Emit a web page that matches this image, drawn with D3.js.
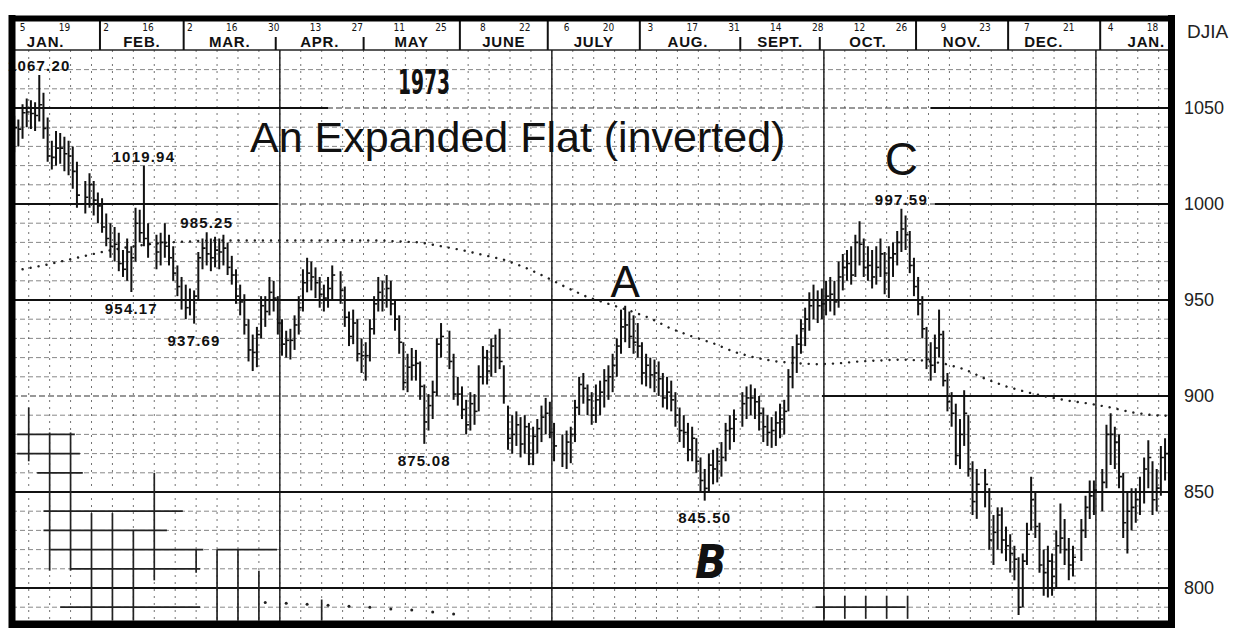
<!DOCTYPE html>
<html><head><meta charset="utf-8">
<script src="https://cdn.jsdelivr.net/npm/d3@7"></script>
<style>body{margin:0;background:#fff}svg{display:block}</style>
</head><body>
<svg id="c" width="1247" height="628"></svg>
<script>
// ---------- DATA ----------
const startDate = "1973-01-02", endDate = "1974-01-23";
const holidays = ["1973-01-25","1973-02-19","1973-04-20","1973-05-28","1973-07-04",
                  "1973-09-03","1973-11-22","1973-12-25","1974-01-01"];
// daily highs, one row per week
const weeklyHighs = [
 [1040,1046,1044,1052],[1055,1054,1053,1067.2,1058],[1045,1033,1038,1037,1035],[1033,1030,1022,1012],
 [1016,1012,1006,1003,995],[990,988,985,976,982],[978,998,997,1019.94,990],[984,985,990,984],
 [978,968,962,958,956],[955,975,982,985.25,982],[983,982,984,980,973],[966,958,953,940,932],
 [936,952,952,962,960],[952,940,934,935,942],[952,966,972,970,967],[962,958,962,968],
 [965,957,944,945,940],[930,928,940,952,962],[960,963,960,950,942],[928,922,925,924,918],
 [906,901,908,930,938],[934,922,910,905],[898,902,901,916,926],[924,930,932,935,916],
 [895,890,892,889,890],[886,884,888,895,899],[897,886,880,882],[884,898,910,912,906],
 [902,906,908,914,916],[922,930,945,947,944],[942,938,928,922,920],[919,918,912,910,908],
 [902,894,890,886,884],[878,868,862,870,872],[873,876,886,890,893],[902,905,906,904],
 [900,894,890,889,892],[896,898,914,926,932],[940,946,954,958,955],[956,960,962,960,970],
 [974,976,978,984,991],[982,978,976,978,982],[975,978,980,986,997.59],[994,986,972,962,952],
 [936,928,932,945,934],[912,902,896,888,903],[890,866,862,862],[852,838,842,842,832],
 [828,822,816,818,834],[858,850,834,820,822],[818,830,844,836,826],[822,836,848,856],
 [856,862,885,891],[884,880,860,850,852],[852,858,868,877,866],[862,874,878]
];
const weeklyLows = [
 [1022,1027,1030,1034],[1040,1039,1038,1043,1034],[1022,1018,1020,1021,1017],[1015,1008,998,995],
 [998,994,990,985,978],[972,970,965,962,960],[954.17,970,980,978,972],[966,968,972,968],
 [960,952,945,940,942],[937.69,950,966,968,965],[967,966,968,963,958],[948,942,932,918,913],
 [915,930,936,942,944],[932,921,920,919,924],[932,944,954,955,951],[946,944,946,950],
 [948,936,926,927,918],[912,908,918,932,944],[944,946,942,934,922],[903,902,908,908,898],
 [875.08,882,888,900,920],[914,898,895,888],[880,882,885,892,906],[906,910,912,914,896],
 [872,870,874,868,870],[864,864,870,876,880],[878,866,863,862],[865,876,890,896,890],
 [885,886,890,894,898],[902,910,922,928,925],[922,920,906,905,904],[902,900,894,893,892],
 [884,876,873,866,866],[860,850,845.5,850,854],[855,858,866,872,876],[884,888,890,888],
 [882,876,874,873,874],[878,880,892,904,912],[922,926,934,940,938],[940,942,944,942,946],
 [955,960,958,962,968],[962,960,956,958,962],[953,951,962,968,975],[976,964,952,942,930],
 [914,908,912,920,905],[892,884,864,862,874],[858,838,836,842],[820,812,820,818,814],
 [808,804,786,790,812],[830,826,808,796,795],[796,800,818,812,804],[806,814,826,836],
 [838,840,852,864],[862,852,826,818,830],[834,838,844,852,838],[840,848,856]
];
const weeklyCloses = [
 [1031.7,1039.8,1039,1047.5],[1047.9,1047.1,1046.1,1051.7,1039.4],[1025,1024.3,1029.1,1029.1,1026.2],[1025,1017,1004.6,1003.5],
 [1010,1002,999,988,982],[978,979,969,966,975],[972,990,985,982,979],[975,980,978,972],
 [964,957,950,946,950],[952,972,977,974,972],[976,975,977,967,963],[952,949,937,924,922.7],
 [932,947,944,954,951],[938,927,929,929,937],[946,959,964,962,959],[953,951,956,963],
 [955,941,931,938,922],[921,921,935,948,954],[950,956,948,940,928],[907,915,916,917,905],
 [886.5,895,902,927,931],[918,901,901,893],[885,896,892,910,920],[913,926,920,918,900],
 [878,880,885,875,884],[870,879,883,889,891],[881,874,870,876],[880,894,906,904,898],
 [890,898,902,908,910],[916,926,936,937,931],[928,926,912,916,911],[912,909,899,902,898],
 [890,882,881,872,878],[866,856,851.9,864,862],[866,868,882,883,888],[896,899,899,897],
 [891,884,881,882,886],[888,892,910,920,927],[935,940,947,950,947],[948,952,953,949,962],
 [967,969,963,980,979],[967,968,962,967,974],[964,972,974,980,987],[984,968,957,948,935],
 [919,916,925,932,908],[897,891,869,880,891],[862,845,854,854],[825,829,838,825,822],
 [818,815,790,814,828],[846,832,812,808,814],[806,822,826,820,812],[816,830,842,848],
 [851,855,880,880],[876,858,834,840,842],[846,850,862,868,846],[852,868,870]
];
// dotted moving average, one value per week (Fridays)
const maWeekly = [966,968,970.5,973,975.5,977.5,979,980,980.5,981,981,981,981,981,981,981,981,981,
 980.5,980,978,976,973.5,971,967,962,956.5,951.5,948,944.5,940.5,935,931,927.5,923,920,918,917,
 916.5,917,918,918.5,919,918.5,917,914,909,905,902,899.5,897.5,896,894,891.5,890,889.5];
const yTicks = [800,850,900,950,1000,1050];
const monthNames = ["JAN.","FEB.","MAR.","APR.","MAY","JUNE","JULY","AUG.","SEPT.","OCT.","NOV.","DEC.","JAN."];
const fridayLabels = ["1973-01-05","1973-01-19","1973-02-02","1973-02-16","1973-03-02","1973-03-16","1973-03-30",
 "1973-04-13","1973-04-27","1973-05-11","1973-05-25","1973-06-08","1973-06-22","1973-07-06","1973-07-20",
 "1973-08-03","1973-08-17","1973-08-31","1973-09-14","1973-09-28","1973-10-12","1973-10-26","1973-11-09",
 "1973-11-23","1973-12-07","1973-12-21","1974-01-04","1974-01-18"];
// price annotations
const noteDates  = ["1973-01-11","1973-02-15","1973-03-08","1973-02-12","1973-03-05","1973-05-21","1973-08-22","1973-10-26"];
const noteValues = [1067.20,1019.94,985.25,954.17,937.69,875.08,845.50,997.59];
const noteSide   = ["above","above","above","below","below","below","below","above"];
// wave labels
const waveNames = ["A","B","C"];
const waveDates = ["1973-07-26","1973-08-22","1973-10-26"];
const waveValues = [947,845.5,997.59];
// darker remnant grid segments (lower left): [value, fromDay, toDay] and [weekLine, fromValue, toValue]
const remnantH = [[880,2.7,16.5],[870,2.7,17.7],[860,7.5,18.4],[840,9,42.3],[830,9,38.5],
 [820,10.6,47.2],[820,50.5,64.8],[810,15.3,46.4],[790,13,46.4],[790,193.5,215]];
const remnantV = [[1,894,866],[2,881,809],[3,881,809],[4,839,783],[5,839,783],[6,830,783],
 [7,860,804],[9,820,808],[10,820,783],[11,820,783],[12,809,783],[15,794,783],
 [39,796,784],[40,796,784],[41,796,784],[42,796,784],[43,796,784]];
const remnantDotsDay = [62,67,72,77,82,87,92,97,102,107];
const remnantDotsVal = [792.5,792,791.5,791,790.5,790,789,788.5,787.5,786.5];

// ---------- HELPERS ----------
const T0 = Date.UTC(1973,0,1);
function parse(s){const [a,b,c]=s.split("-").map(Number);return new Date(Date.UTC(a,b-1,c));}
function dayIndex(d){const days=Math.round((d-T0)/864e5);return Math.floor(days/7)*5+(d.getUTCDay()-1);}
const hol = new Set(holidays);
const tradingDays = [];
for(let d=parse(startDate); d<=parse(endDate); d=new Date(d.getTime()+864e5)){
  const w=d.getUTCDay(); if(w===0||w===6) continue;
  if(hol.has(d.toISOString().slice(0,10))) continue;
  tradingDays.push(d);
}
const H=weeklyHighs.flat(), L=weeklyLows.flat(), C=weeklyCloses.flat();
const bars = tradingDays.map((d,i)=>({i:dayIndex(d),d,h:H[i],l:L[i],c:C[i]})).filter(b=>b.h!=null);

// ---------- SCALES ----------
const x = d3.scaleLinear().domain([0,274]).range([5.8,1152.5]);
const y = d3.scaleLinear().domain([800,1050]).range([588,108]);
const pL=12, pR=1171.5, pT=50, pB=621;

const svg = d3.select("#c");
svg.append("defs").append("clipPath").attr("id","pc").append("rect")
  .attr("x",pL).attr("y",pT).attr("width",pR-pL).attr("height",pB-pT);
const g = svg.append("g").attr("clip-path","url(#pc)");

// minor horizontal grid
g.append("g").selectAll("line").data(d3.range(790,1080,10).filter(v=>v%50!==0)).join("line")
  .attr("x1",pL).attr("x2",pR).attr("y1",d=>y(d)).attr("y2",d=>y(d))
  .attr("stroke","#444").attr("stroke-width",0.9).attr("stroke-dasharray","5,3").attr("opacity",0.7);
// weekly vertical grid
g.append("g").selectAll("line").data(d3.range(0,57)).join("line")
  .attr("x1",k=>x(5*k)+2).attr("x2",k=>x(5*k)+2).attr("y1",pT).attr("y2",pB)
  .attr("stroke","#444").attr("stroke-width",1).attr("stroke-dasharray","2,5").attr("opacity",0.75);
// quarter lines
g.append("g").selectAll("line").data([65,130,195,260]).join("line")
  .attr("x1",d=>x(d)+2).attr("x2",d=>x(d)+2).attr("y1",pT).attr("y2",pB)
  .attr("stroke","#222").attr("stroke-width",1.5);
// major horizontal lines (some solid only in parts)
const solidSpans = {1050:[[0,77],[221,282]],1000:[[0,65],[222,282]],900:[[195,282]]};
yTicks.forEach(v=>{
  const spans = solidSpans[v] || [[0,282]];
  if(solidSpans[v]) g.append("line").attr("x1",pL).attr("x2",pR).attr("y1",y(v)).attr("y2",y(v))
    .attr("stroke","#333").attr("stroke-width",1.2).attr("stroke-dasharray","6,3");
  spans.forEach(s=>g.append("line").attr("x1",Math.max(pL,x(s[0]))).attr("x2",Math.min(pR,x(s[1])))
    .attr("y1",y(v)).attr("y2",y(v)).attr("stroke","#111").attr("stroke-width",1.8));
});
// remnant grid
g.append("g").selectAll("line").data(remnantH).join("line")
  .attr("x1",d=>x(d[1])).attr("x2",d=>x(d[2])).attr("y1",d=>y(d[0])).attr("y2",d=>y(d[0]))
  .attr("stroke","#222").attr("stroke-width",1.7);
g.append("g").selectAll("line").data(remnantV).join("line")
  .attr("x1",d=>x(5*d[0])+2).attr("x2",d=>x(5*d[0])+2).attr("y1",d=>y(d[1])).attr("y2",d=>y(d[2]))
  .attr("stroke","#222").attr("stroke-width",1.7);
g.append("g").selectAll("circle").data(remnantDotsDay).join("circle")
  .attr("cx",d=>x(d)).attr("cy",(d,i)=>y(remnantDotsVal[i])).attr("r",1.5).attr("fill","#222");

// moving average (dotted)
g.append("path").datum(maWeekly)
  .attr("d",d3.line().x((v,k)=>x(4+5*k)).y(v=>y(v)))
  .attr("fill","none").attr("stroke","#222").attr("stroke-width",2.4)
  .attr("stroke-linecap","round").attr("stroke-dasharray","0.1,8");

// daily bars
const bg = g.append("g").attr("stroke","#111");
bg.selectAll("line.hl").data(bars).join("line").attr("class","hl")
  .attr("x1",b=>x(b.i)).attr("x2",b=>x(b.i)).attr("y1",b=>y(b.h)).attr("y2",b=>y(b.l))
  .attr("stroke-width",2);
bg.selectAll("line.cl").data(bars).join("line").attr("class","cl")
  .attr("x1",b=>x(b.i)).attr("x2",b=>x(b.i)+3).attr("y1",b=>y(b.c)).attr("y2",b=>y(b.c))
  .attr("stroke-width",1.6);

// price annotations
svg.append("g").selectAll("text").data(noteValues).join("text")
  .attr("x",(v,i)=>x(dayIndex(parse(noteDates[i]))))
  .attr("y",(v,i)=>noteSide[i]==="above"? y(v)-4 : y(v)+22)
  .attr("text-anchor","middle").attr("font-family","Liberation Sans, Arial, sans-serif")
  .attr("font-weight","bold").attr("font-size",15).attr("letter-spacing",1.2).attr("fill","#111")
  .text(v=>v.toFixed(2));

// wave letters
const wv = svg.append("g").attr("fill","#111").attr("text-anchor","middle");
wv.append("text").attr("x",x(dayIndex(parse(waveDates[0]))))
  .attr("y",y(waveValues[0])-9).attr("font-family","Liberation Sans, Arial, sans-serif")
  .attr("font-size",44).text(waveNames[0]);
wv.append("text").attr("x",x(dayIndex(parse(waveDates[1])))+6)
  .attr("y",y(waveValues[1])+77).attr("font-family","Liberation Sans Narrow, DejaVu Sans Condensed, sans-serif")
  .attr("font-weight","bold").attr("font-style","italic").attr("font-size",46).text(waveNames[1]);
wv.append("text").attr("x",x(dayIndex(parse(waveDates[2]))))
  .attr("y",y(waveValues[2])-34).attr("font-family","Liberation Sans, Arial, sans-serif")
  .attr("font-size",46).text(waveNames[2]);

// titles
svg.append("text").attr("x",250).attr("y",152).attr("font-family","Liberation Sans, Arial, sans-serif")
  .attr("font-size",43).attr("fill","#111").text("An Expanded Flat (inverted)");
svg.append("text").attr("x",398).attr("y",94).attr("font-family","Liberation Sans Narrow, DejaVu Sans Condensed, sans-serif")
  .attr("font-weight","bold").attr("font-size",33).attr("fill","#111")
  .attr("textLength",52).attr("lengthAdjust","spacingAndGlyphs").text("1973");

// ---------- HEADER ----------
const hdr = svg.append("g");
hdr.append("rect").attr("x",pL).attr("y",20).attr("width",pR-pL).attr("height",30).attr("fill","#fff");
hdr.append("line").attr("x1",pL).attr("x2",pR).attr("y1",50).attr("y2",50).attr("stroke","#222").attr("stroke-width",1.6);
// months
const months = d3.groups(bars, b=>b.d.getUTCFullYear()*12+b.d.getUTCMonth());
const monthInfo = months.map(([key,arr])=>({key, first:d3.min(arr,b=>b.i), last:d3.max(arr,b=>b.i)}));
const fullDiv = new Set([1,2,5,6,7,10,11,12]);
const monthShift = {0:-2, 11:-2, 12:3};
monthInfo.forEach((m,j)=>{
  const cx = x((m.first+m.last)/2 + (monthShift[j]||0));
  hdr.append("text").attr("x",cx).attr("y",47).attr("text-anchor","middle")
    .attr("font-family","Liberation Sans, Arial, sans-serif").attr("font-weight","bold")
    .attr("font-size",15).attr("letter-spacing",0.8).attr("fill","#111").text(monthNames[j]);
  if(j>0){
    const dx = x(m.first-0.5);
    hdr.append("line").attr("x1",dx).attr("x2",dx).attr("y1",fullDiv.has(j)?21:37).attr("y2",50)
      .attr("stroke","#111").attr("stroke-width",2);
  }
});
// friday day numbers
hdr.selectAll("text.day").data(fridayLabels).join("text").attr("class","day")
  .attr("x",s=>x(dayIndex(parse(s)))).attr("y",31).attr("text-anchor","middle")
  .attr("font-family","Liberation Sans Narrow, DejaVu Sans Condensed, sans-serif")
  .attr("font-size",10).attr("fill","#111").text(s=>+s.slice(8));

// ---------- FRAME ----------
const fr = svg.append("g").attr("stroke","#000");
fr.append("line").attr("x1",pL).attr("x2",pL).attr("y1",15).attr("y2",628).attr("stroke-width",7);
fr.append("line").attr("x1",pR).attr("x2",pR).attr("y1",15).attr("y2",628).attr("stroke-width",7);
fr.append("line").attr("x1",9).attr("x2",1175).attr("y1",18.5).attr("y2",18.5).attr("stroke-width",6);
fr.append("line").attr("x1",9).attr("x2",1175).attr("y1",624.5).attr("y2",624.5).attr("stroke-width",8);

// right axis
const ax = svg.append("g").attr("font-family","Liberation Sans, Arial, sans-serif").attr("fill","#222");
ax.selectAll("text").data(yTicks).join("text").attr("x",1184).attr("y",d=>y(d)).attr("dy","0.36em")
  .attr("font-size",18).text(d=>d);
ax.append("text").attr("x",1187).attr("y",38).attr("font-size",19).text("DJIA");
</script>
</body></html>
